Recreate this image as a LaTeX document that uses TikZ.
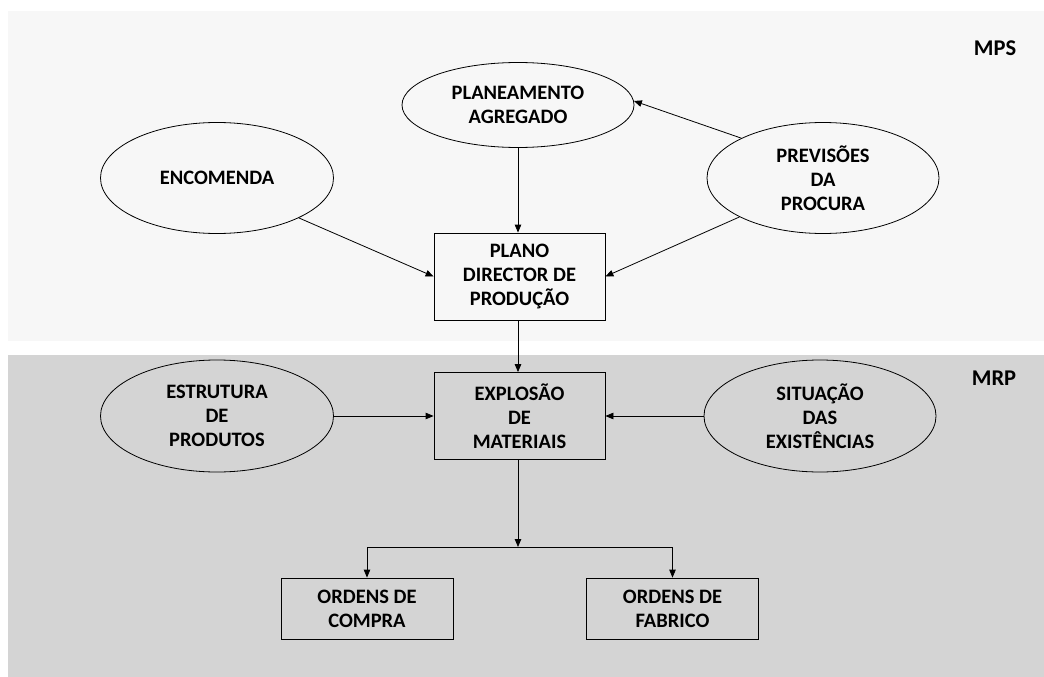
\documentclass[tikz,border=0pt]{standalone}
\usepackage{fontspec}
\setmainfont{Carlito}
\usetikzlibrary{shapes.geometric,arrows.meta}
\definecolor{mpsbg}{HTML}{F7F7F7}
\definecolor{mrpbg}{HTML}{D4D4D4}
\begin{document}
\begin{tikzpicture}[x=1pt,y=-1pt,
  every node/.style={font=\fontsize{20.5}{24}\selectfont\bfseries, align=center, inner sep=0pt},
  oval/.style={draw, ellipse, line width=0.8pt, minimum width=#1},
  oval/.default=232pt,
  stepbox/.style={draw, rectangle, line width=0.8pt, minimum width=171pt, minimum height=87pt},
  orderbox/.style={draw, rectangle, line width=0.8pt, minimum width=172pt, minimum height=61pt},
  link/.style={line width=0.8pt, -{Triangle[length=8pt,width=6.5pt]}},
  panel/.style={font=\fontsize{22.5}{26}\selectfont\bfseries}
]
\useasboundingbox (0,0) rectangle (1044,677);
\fill[white] (0,0) rectangle (1044,677);
% panels
\fill[mpsbg] (8,11) rectangle (1044,341);
\fill[mrpbg] (8,355) rectangle (1044,677);
\node[panel] (mps) at (995,48) {MPS};
\node[panel] (mrp) at (994,378) {MRP};

% MPS level
\node[oval=232pt, minimum height=85pt] (plan) at (518,105) {PLANEAMENTO\\AGREGADO};
\node[oval=233pt, minimum height=111pt] (enc) at (217,178) {ENCOMENDA};
\node[oval=232pt, minimum height=111pt] (prev) at (823,178) {PREVISÕES\\DA\\PROCURA};
\node[stepbox] (pdp) at (519.5,276.5) {PLANO\\DIRECTOR DE\\PRODUÇÃO};

% MRP level
\node[oval=233pt, minimum height=112pt] (estr) at (217,416) {ESTRUTURA\\DE\\PRODUTOS};
\node[stepbox] (expl) at (519.5,416) {EXPLOSÃO\\DE\\MATERIAIS};
\node[oval=232pt, minimum height=112pt] (sit) at (820,416) {SITUAÇÃO\\DAS\\EXISTÊNCIAS};
\node[orderbox] (comp) at (367,608.5) {ORDENS DE\\COMPRA};
\node[orderbox] (fabr) at (672.5,608.5) {ORDENS DE\\FABRICO};
\coordinate (split) at (518,547);

% connectors
\draw[link] (plan.south) -- (pdp.north -| plan.south);
\draw[link] (enc.-26) -- (pdp.west);
\draw[link] (prev.205) -- (pdp.east);
\draw[link] (prev.154) -- (plan.2);
\draw[link] (pdp.south -| split) -- (expl.north -| split);
\draw[link] (estr.east) -- (expl.west);
\draw[link] (sit.west) -- (expl.east);
\draw[link] (expl.south -| split) -- (split);
\draw[link] (split) -| (comp.north);
\draw[link] (split) -| (fabr.north);
\end{tikzpicture}
\end{document}
